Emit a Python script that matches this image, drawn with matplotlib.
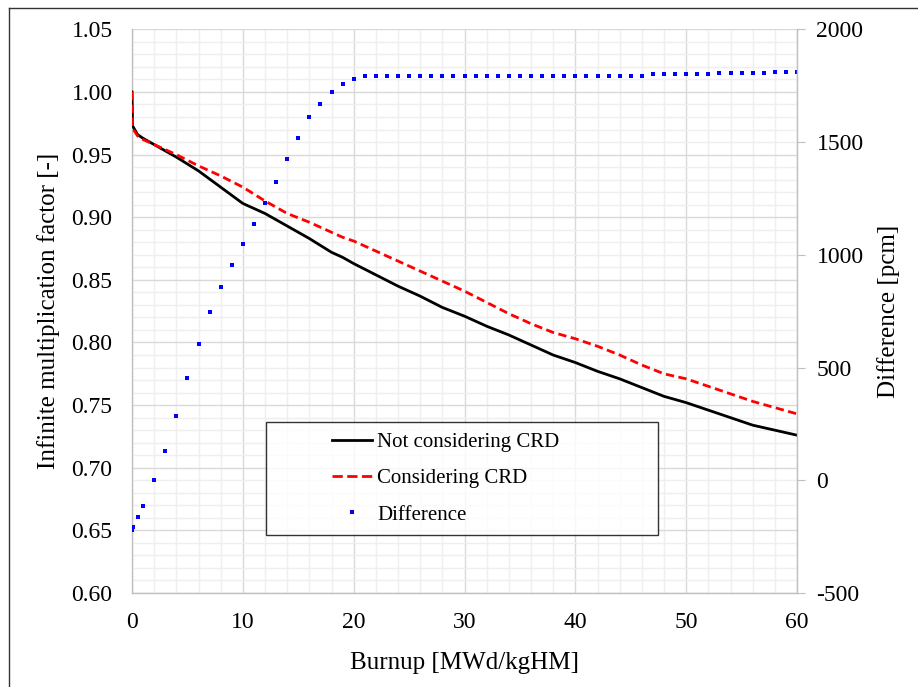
import matplotlib
matplotlib.use("Agg")
import matplotlib.pyplot as plt
from matplotlib.ticker import MultipleLocator, FormatStrFormatter
from matplotlib.lines import Line2D
from matplotlib.legend_handler import HandlerBase

# ---------------- data ----------------
burnup_k = [0, 0.05, 0.5, 1, 2, 3, 4, 6, 8, 10, 12, 14, 16, 18, 19, 20, 22, 24, 26, 28,
            30, 32, 34, 36, 38, 40, 42, 44, 46, 48, 50, 52, 54, 56, 58, 60]
k_no_crd = [1.000, 0.973, 0.966, 0.963, 0.958, 0.953, 0.948, 0.937, 0.924, 0.911, 0.903,
            0.893, 0.883, 0.872, 0.868, 0.863, 0.854, 0.845, 0.837, 0.828, 0.821, 0.813,
            0.806, 0.798, 0.790, 0.784, 0.777, 0.771, 0.764, 0.757, 0.752, 0.746, 0.740,
            0.734, 0.730, 0.726]
k_crd = [1.000, 0.971, 0.965, 0.962, 0.958, 0.954, 0.950, 0.941, 0.933, 0.924, 0.913,
         0.903, 0.896, 0.888, 0.884, 0.881, 0.873, 0.865, 0.857, 0.849, 0.841, 0.832,
         0.823, 0.815, 0.808, 0.803, 0.797, 0.790, 0.782, 0.775, 0.771, 0.765, 0.759,
         0.753, 0.748, 0.743]

burnup_diff = [0, 0.1, 0.5, 1, 2, 3, 4, 5, 6, 7, 8, 9, 10, 11, 12, 13, 14, 15, 16, 17, 18,
               19, 20, 21, 22, 23, 24, 25, 26, 27, 28, 29, 30, 31, 32, 33, 34, 35, 36, 37,
               38, 39, 40, 41, 42, 43, 44, 45, 46, 47, 48, 49, 50, 51, 52, 53, 54, 55, 56,
               57, 58, 59, 60]
diff_pcm = [-220, -205, -162, -114, 0, 131, 286, 455, 606, 748, 859, 956, 1047, 1137, 1229,
            1325, 1427, 1520, 1609, 1671, 1720, 1756, 1778, 1791, 1795, 1795, 1795, 1795,
            1795, 1795, 1795, 1795, 1795, 1795, 1795, 1795, 1795, 1795, 1795, 1795, 1795,
            1795, 1795, 1795, 1795, 1795, 1795, 1795, 1795, 1801, 1801, 1801, 1801, 1801,
            1801, 1806, 1806, 1806, 1806, 1806, 1810, 1810, 1810]

labels = ["Not considering CRD", "Considering CRD", "Difference"]

# ---------------- figure ----------------
plt.rcParams['font.family'] = ['Liberation Serif', 'DejaVu Serif']
plt.rcParams['axes.unicode_minus'] = False
fig = plt.figure(figsize=(9.18, 6.87), dpi=100)
ax = fig.add_axes([0.1438, 0.1368, 0.7244, 0.8205])
ax2 = ax.twinx()

ax.set_xlim(0, 60)
ax.set_ylim(0.60, 1.05)
ax2.set_ylim(-500, 2000)

ax.xaxis.set_major_locator(MultipleLocator(10))
ax.xaxis.set_minor_locator(MultipleLocator(2))
ax.yaxis.set_major_locator(MultipleLocator(0.05))
ax.yaxis.set_minor_locator(MultipleLocator(0.01))
ax2.yaxis.set_major_locator(MultipleLocator(500))

ax.grid(which='major', color='#d9d9d9', linewidth=1.0)
ax.grid(which='minor', color='#efefef', linewidth=1.0)
ax.set_axisbelow(True)
ax.yaxis.set_major_formatter(FormatStrFormatter('%.2f'))

for a in (ax, ax2):
    for s in a.spines.values():
        s.set_visible(False)
ax.spines['left'].set_visible(True)
ax.spines['bottom'].set_visible(True)
ax2.spines['right'].set_visible(True)
for s in (ax.spines['left'], ax.spines['bottom'], ax2.spines['right']):
    s.set_color('#bfbfbf')
    s.set_linewidth(1.0)

ax.tick_params(axis='x', which='both', length=0, labelsize=17, pad=14)
ax.tick_params(axis='y', which='both', length=0, labelsize=17, pad=14)
ax2.tick_params(axis='y', which='major', length=6, color='#bfbfbf', labelsize=17, pad=8)

dash = (0, (3, 1.6))
ax.plot(burnup_k, k_no_crd, color='black', linewidth=2.0, zorder=3)
ax.plot(burnup_k, k_crd, color='#ff0000', linewidth=2.0, linestyle=dash, zorder=3)
ax2.plot(burnup_diff, diff_pcm, linestyle='none', marker='s', markersize=2.6,
         color='#0000ff', markeredgewidth=0)

ax.set_xlabel("Burnup [MWd/kgHM]", fontsize=18, labelpad=13)
ax.set_ylabel("Infinite multiplication factor [-]", fontsize=18, labelpad=8)
ax2.set_ylabel("Difference [pcm]", fontsize=18, labelpad=10)


class RightHandler(HandlerBase):
    def __init__(self, frac=0.6):
        super().__init__()
        self.frac = frac

    def create_artists(self, legend, orig, xdescent, ydescent, width, height, fontsize, trans):
        x1 = -xdescent + width
        x0 = x1 - width * self.frac
        y = -ydescent + height / 2
        if orig.get_linestyle() in ('None', 'none', '', ' '):
            art = Line2D([(x0 + x1) / 2], [y], linestyle='none', marker=orig.get_marker(),
                         markersize=orig.get_markersize(), color=orig.get_color(),
                         markeredgewidth=0)
        else:
            art = Line2D([x0, x1], [y, y], color=orig.get_color(),
                         linewidth=orig.get_linewidth(), linestyle=orig.get_linestyle())
        art.set_transform(trans)
        return [art]


handles = [Line2D([], [], color='black', linewidth=2.0),
           Line2D([], [], color='#ff0000', linewidth=2.0, linestyle=dash),
           Line2D([], [], linestyle='none', marker='s', markersize=2.6, color='#0000ff')]
hmap = {h: RightHandler(0.42) for h in handles}
x0 = (266 - 132) / 665
x1 = (658 - 132) / 665
ytop = (593 - 422) / 564
ybot = (593 - 532) / 564
leg = ax2.legend(handles, labels, loc='upper left', handler_map=hmap,
                 bbox_to_anchor=(x0, ybot, x1 - x0, ytop - ybot), mode='expand',
                 frameon=True, fancybox=False, edgecolor='black', fontsize=15,
                 handlelength=4.6, handletextpad=0.25, borderpad=0.5, labelspacing=0.8,
                 borderaxespad=0)
leg.get_frame().set_linewidth(1.0)
leg.set_zorder(5)

# outer frame lines (left and top)
fig.add_artist(Line2D([0.0098, 0.0098], [0.0, 0.988], color='#333333', linewidth=1.0,
                      transform=fig.transFigure))
fig.add_artist(Line2D([0.0098, 1.0], [0.988, 0.988], color='#333333', linewidth=1.0,
                      transform=fig.transFigure))

fig.savefig("out.png", dpi=100, facecolor='white')
